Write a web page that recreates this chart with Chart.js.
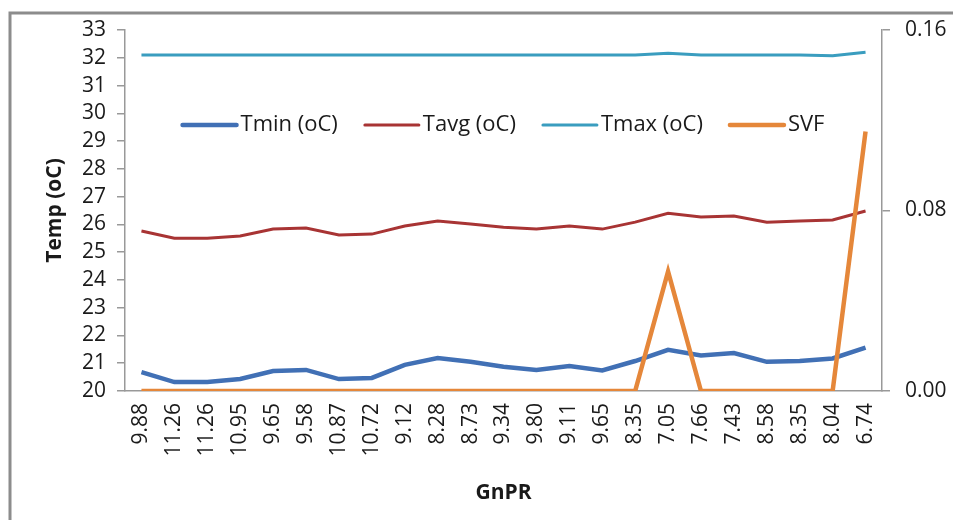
<!DOCTYPE html>
<html>
<head>
<meta charset="utf-8">
<script src="https://cdn.jsdelivr.net/npm/chart.js@4.4.0/dist/chart.umd.min.js"></script>
<style>
  html, body { margin: 0; padding: 0; background: #fff; }
</style>
</head>
<body>
<canvas id="myChart" width="953" height="520"></canvas>
<script>
// GnPR categories along the x axis
const labels = ['9.88','11.26','11.26','10.95','9.65','9.58','10.87','10.72','9.12','8.28','8.73',
                '9.34','9.80','9.11','9.65','8.35','7.05','7.66','7.43','8.58','8.35','8.04','6.74'];
// temperatures
const tmin = [20.68, 20.32, 20.32, 20.43, 20.72, 20.76, 20.43, 20.47, 20.94, 21.19, 21.05,
              20.87, 20.76, 20.90, 20.74, 21.08, 21.48, 21.28, 21.37, 21.05, 21.08, 21.17, 21.56];
const tavg = [25.76, 25.50, 25.50, 25.58, 25.83, 25.87, 25.62, 25.65, 25.94, 26.12, 26.01,
              25.90, 25.83, 25.94, 25.83, 26.08, 26.40, 26.27, 26.30, 26.08, 26.12, 26.16, 26.48];
const tmax = [32.10, 32.10, 32.10, 32.10, 32.10, 32.10, 32.10, 32.10, 32.10, 32.10, 32.10,
              32.10, 32.10, 32.10, 32.10, 32.10, 32.16, 32.10, 32.10, 32.10, 32.10, 32.07, 32.20];
const svf  = [0, 0, 0, 0, 0, 0, 0, 0, 0, 0, 0,
              0, 0, 0, 0, 0, 0.053, 0, 0, 0, 0, 0, 0.115];
const tempTicks = [20, 33];
const svfTicks = [0, 0.16];

const FONT = 'Open Sans';
Chart.defaults.font.family = FONT;
Chart.defaults.color = '#1a1a1a';

// grey frame round the figure (top and left edges only are visible)
const framePlugin = {
  id: 'frame',
  beforeDraw(chart) {
    const ctx = chart.ctx;
    ctx.save();
    ctx.fillStyle = '#fff';
    ctx.fillRect(0, 0, chart.width, chart.height);
    ctx.strokeStyle = '#8c8c8c';
    ctx.lineWidth = 3;
    ctx.beginPath();
    ctx.moveTo(10, chart.height);
    ctx.lineTo(10, 13);
    ctx.lineTo(chart.width, 13);
    ctx.stroke();
    ctx.restore();
  }
};

// legend drawn inside the plot area
const innerLegend = {
  id: 'innerLegend',
  afterDraw(chart) {
    const ctx = chart.ctx;
    const area = chart.chartArea;
    const y = area.top + 95;
    ctx.save();
    ctx.font = '22px "' + FONT + '"';
    ctx.textBaseline = 'middle';
    const lineLen = 54, gap = 4, spacing = 27;
    const items = chart.data.datasets.map(ds => ({ ds, w: ctx.measureText(ds.label).width }));
    let total = 0;
    items.forEach((it, i) => { total += lineLen + gap + it.w + (i < items.length - 1 ? spacing : 0); });
    let x = (area.left + area.right) / 2 - total / 2;
    items.forEach(it => {
      ctx.strokeStyle = it.ds.borderColor;
      ctx.lineWidth = it.ds.borderWidth;
      ctx.lineCap = 'round';
      ctx.beginPath();
      ctx.moveTo(x, y);
      ctx.lineTo(x + lineLen, y);
      ctx.stroke();
      x += lineLen + gap;
      ctx.fillStyle = '#1a1a1a';
      ctx.fillText(it.ds.label, x, y);
      x += it.w + spacing;
    });
    ctx.restore();
  }
};

new Chart(document.getElementById('myChart'), {
  type: 'line',
  data: {
    labels: labels,
    datasets: [
      { label: 'Tmin (oC)', data: tmin, borderColor: '#4170b5', borderWidth: 4.5, yAxisID: 'y', order: 1 },
      { label: 'Tavg (oC)', data: tavg, borderColor: '#a83434', borderWidth: 3, yAxisID: 'y', order: 2 },
      { label: 'Tmax (oC)', data: tmax, borderColor: '#3a9dbf', borderWidth: 3, yAxisID: 'y', order: 3 },
      { label: 'SVF', data: svf, borderColor: '#e5873a', borderWidth: 4.5, yAxisID: 'y1', order: 0 }
    ]
  },
  options: {
    responsive: false,
    animation: false,
    elements: { point: { radius: 0 }, line: { tension: 0 } },
    layout: { padding: { top: 30, left: 0, right: 0, bottom: 0 } },
    plugins: { legend: { display: false }, tooltip: { enabled: false } },
    scales: {
      x: {
        offset: true,
        grid: { display: false, drawTicks: false },
        border: { display: true, color: '#999', width: 1.5 },
        ticks: { autoSkip: false, minRotation: 90, maxRotation: 90, padding: 12, font: { size: 21 } },
        title: { display: true, text: 'GnPR', font: { size: 21, weight: 'bold' }, padding: { top: 0, bottom: 14 } },
        afterFit: s => { s.height = 129; }
      },
      y: {
        position: 'left',
        min: tempTicks[0],
        max: tempTicks[1],
        ticks: { stepSize: 1, autoSkip: false, padding: 11, font: { size: 21 } },
        grid: { drawOnChartArea: false, drawTicks: true, tickLength: 8, color: '#999', lineWidth: 1.5 },
        border: { display: true, color: '#999', width: 1.5 },
        title: { display: true, text: 'Temp (oC)', font: { size: 21, weight: 'bold' }, padding: { top: 42, bottom: 0 } },
        afterFit: s => { s.width = 125; }
      },
      y1: {
        position: 'right',
        min: svfTicks[0],
        max: svfTicks[1],
        ticks: { stepSize: 0.08, autoSkip: false, padding: 15, font: { size: 21 }, callback: v => v.toFixed(2) },
        grid: { drawOnChartArea: false, drawTicks: true, tickLength: 8, color: '#999', lineWidth: 1.5 },
        border: { display: true, color: '#999', width: 1.5 },
        afterFit: s => { s.width = 71; }
      }
    }
  },
  plugins: [framePlugin, innerLegend]
});
</script>
</body>
</html>
